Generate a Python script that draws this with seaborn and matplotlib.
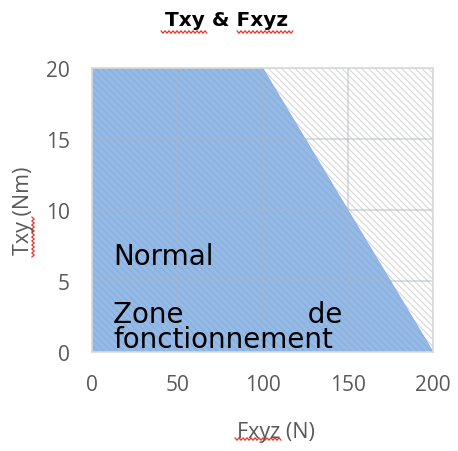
import matplotlib
matplotlib.use("Agg")
import matplotlib.pyplot as plt
import seaborn as sns
import pandas as pd
import numpy as np
from matplotlib.lines import Line2D

# Operating limit: torque Txy versus force Fxyz
force_n = [0, 100, 200]
torque_nm = [20, 20, 0]
x_ticks = [0, 50, 100, 150, 200]
y_ticks = [0, 5, 10, 15, 20]

sns.set_theme(style="white")
plt.rcParams["font.family"] = ["Open Sans", "DejaVu Sans"]
plt.rcParams["hatch.linewidth"] = 0.8

df = pd.DataFrame({"Fxyz": force_n, "Txy": torque_nm})

W, H = 458, 452
fig = plt.figure(figsize=(W / 100, H / 100), dpi=100)
ax = fig.add_axes([92 / W, 1 - 353 / H, (433 - 92) / W, (353 - 69) / H])

# hatched background of the whole plot area
ax.fill_between([0, 200], [0, 0], [20, 20], facecolor="white",
                edgecolor="#d8d8d8", hatch="\\" * 5, linewidth=0, zorder=0)

# normal operating zone
ax.fill_between(df["Fxyz"], 0, df["Txy"], facecolor="#95bae6",
                edgecolor="#88aedd", hatch="\\" * 5, linewidth=0, zorder=1)
sns.lineplot(data=df, x="Fxyz", y="Txy", ax=ax, color="#90b5e3",
             linewidth=0.8, zorder=2)

ax.set_xlim(0, 200)
ax.set_ylim(0, 20)
ax.set_xticks(x_ticks)
ax.set_yticks(y_ticks)
ax.grid(True, color="#a8b4c4", alpha=0.5, linewidth=1.2, zorder=3)
ax.set_axisbelow(False)
for side, sp in ax.spines.items():
    sp.set_color("#d9d9d9")
    sp.set_linewidth(1.2)
    sp.set_zorder(3)

ax.tick_params(axis="both", length=0, labelsize=15, labelcolor="#595959")
ax.tick_params(axis="y", pad=16)
ax.tick_params(axis="x", pad=16)
ax.set_xlabel("")
ax.set_ylabel("")

fig.text(276 / W, 1 - 433 / H, "Fxyz (N)", ha="center", va="center",
         fontsize=15.5, color="#595959")
fig.text(23 / W, 1 - 211 / H, "Txy (Nm)", ha="center", va="center",
         rotation=90, fontsize=15.5, color="#595959")
fig.text(227 / W, 1 - 20 / H, "Txy & Fxyz", ha="center", va="center",
         fontsize=14.5, fontweight="bold", color="black", family="DejaVu Sans")

# zone label, justified on its first line
zone_font = dict(fontsize=20, color="black", family="DejaVu Sans")
fig.text(113 / W, 1 - 257 / H, "Normal", ha="left", va="center", **zone_font)
fig.text(113 / W, 1 - 348 / H, "Zone" + " " * 14 + "de\nfonctionnement",
         ha="left", va="baseline", linespacing=0.88, **zone_font)


def squiggle(x0, x1, y, vertical=False):
    """Red wavy spell-check underline, given in pixel positions."""
    t = np.arange(x0, x1 + 0.1, 2.0)
    w = y + np.where(np.arange(len(t)) % 2 == 0, -1.2, 1.2)
    if vertical:
        xs, ys = w, t
    else:
        xs, ys = t, w
    fig.add_artist(Line2D(np.asarray(xs) / W, 1 - np.asarray(ys) / H,
                          transform=fig.transFigure, color="#e8332a",
                          linewidth=0.9))


squiggle(161, 207, 33)
squiggle(237, 294, 33)
squiggle(235, 282, 440)
squiggle(218, 258, 33, vertical=True)

fig.savefig("out.png", dpi=100)
